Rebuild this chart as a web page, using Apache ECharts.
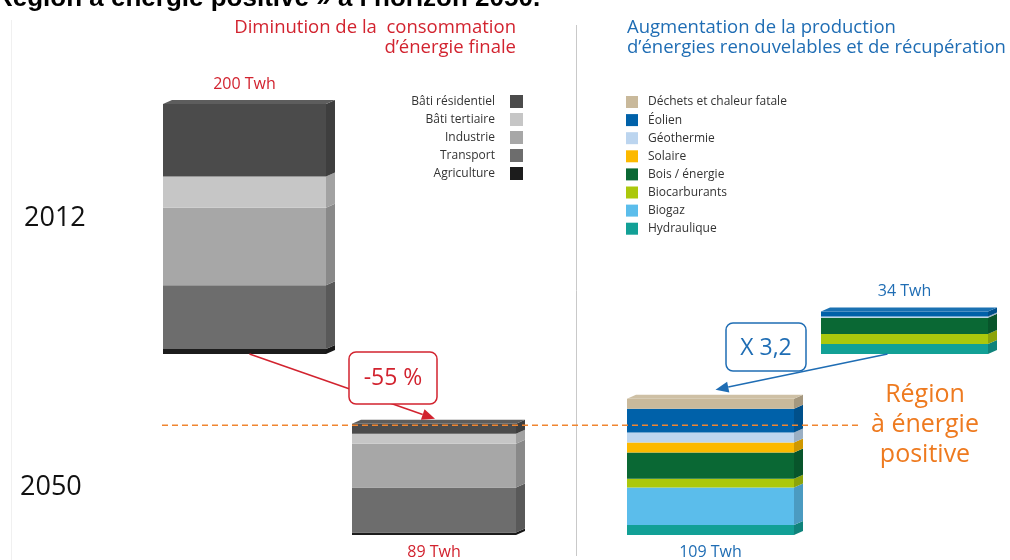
<!DOCTYPE html>
<html><head><meta charset="utf-8">
<script src="https://cdn.jsdelivr.net/npm/echarts@6/dist/echarts.min.js"></script>
<style>html,body{margin:0;padding:0;background:#fff}#c{width:1010px;height:560px}</style>
</head><body><div id="c"></div>
<script>
// ---------- data ----------
const consCategories = ['Bâti résidentiel', 'Bâti tertiaire', 'Industrie', 'Transport', 'Agriculture'];
const consColors = ['#4b4b4b', '#c6c6c6', '#a7a7a7', '#6d6d6d', '#1c1c1c'];
const cons2012 = [58, 25, 62, 51, 4];
const cons2050 = [8, 8, 35, 36, 2];

const prodCategories = ['Déchets et chaleur fatale', 'Éolien', 'Géothermie', 'Solaire', 'Bois / énergie', 'Biocarburants', 'Biogaz', 'Hydraulique'];
const prodColors = ['#c9b99b', '#0061a9', '#bcd5ef', '#fcb900', '#0a6834', '#abc80c', '#5bbdeb', '#12a096'];
const prod2012 = [0, 4, 1, 0, 13, 8, 0, 8];
const prod2050 = [8, 19, 8, 8, 21, 7, 30, 8];

const years = ['2012', '2050'];
const titleText = 'Région à énergie positive » à l’horizon 2050.';
const consHeader = ['Diminution de la  consommation', 'd’énergie finale'];
const prodHeader = ['Augmentation de la production', 'd’énergies renouvelables et de récupération'];
const changeLabel = '-55 %';
const ratioLabel = 'X 3,2';
const positiveLabel = ['Région', 'à énergie', 'positive'];
const unit = ' Twh';

// ---------- style ----------
const RED = '#d2232f', BLUE = '#1f6db4', ORANGE = '#ee7a1f';
const FONT = '"Open Sans", "Noto Sans", sans-serif';
const sum = a => a.reduce((s, v) => s + v, 0);

function shade(hex, f) {
  const n = parseInt(hex.slice(1), 16);
  let r = (n >> 16) & 255, g = (n >> 8) & 255, b = n & 255;
  const t = v => Math.max(0, Math.min(255, Math.round(f < 0 ? v * (1 + f) : v + (255 - v) * f)));
  return 'rgb(' + t(r) + ',' + t(g) + ',' + t(b) + ')';
}

// blocks: values, categories, colours, grid layout, label colour, label side
const blocks = [
  { vals: cons2012, cats: consCategories, colors: consColors, left: 163, width: 163, base: 354, lc: RED, side: 'top' },
  { vals: prod2012, cats: prodCategories, colors: prodColors, left: 821, width: 167, base: 354, lc: BLUE, side: 'top' },
  { vals: cons2050, cats: consCategories, colors: consColors, left: 352, width: 164, base: 535, lc: RED, side: 'bottom' },
  { vals: prod2050, cats: prodCategories, colors: prodColors, left: 627, width: 167, base: 535, lc: BLUE, side: 'bottom' }
];
const AXMAX = 200, PXH = 250;
const DX = 9, DY = -4;

function renderItem(params, api) {
  const s = api.value(1), e = api.value(2), isTop = api.value(3);
  if (e - s <= 0) return null;
  const p0 = api.coord([0, s]), p1 = api.coord([0, e]);
  const w = api.size([1, 0])[0];
  const L = p0[0] - w / 2, R = p0[0] + w / 2, yB = p0[1], yT = p1[1];
  const color = api.visual('color');
  const ch = [
    { type: 'rect', shape: { x: L, y: yT, width: R - L, height: yB - yT }, style: { fill: color } },
    { type: 'polygon', shape: { points: [[R, yT], [R + DX, yT + DY], [R + DX, yB + DY], [R, yB]] }, style: { fill: shade(color, -0.18) } }
  ];
  if (isTop) ch.push({ type: 'polygon', shape: { points: [[L, yT], [L + DX, yT + DY], [R + DX, yT + DY], [R, yT]] }, style: { fill: shade(color, 0.1) } });
  return { type: 'group', children: ch };
}

const grids = [], xAxes = [], yAxes = [], series = [];
blocks.forEach((b, gi) => {
  grids.push({ left: b.left, width: b.width, top: b.base - PXH, height: PXH });
  xAxes.push({ type: 'category', data: ['b'], gridIndex: gi, show: false });
  yAxes.push({ type: 'value', min: 0, max: AXMAX, gridIndex: gi, show: false });
  let acc = 0;
  let topIdx = -1;
  for (let i = 0; i < b.vals.length; i++) if (b.vals[i] > 0) { topIdx = i; break; }
  for (let i = b.vals.length - 1; i >= 0; i--) {
    const s = acc, e = acc + b.vals[i];
    acc = e;
    series.push({
      type: 'custom', name: b.cats[i], xAxisIndex: gi, yAxisIndex: gi,
      itemStyle: { color: b.colors[i] },
      renderItem, silent: true,
      data: [[0, s, e, i === topIdx ? 1 : 0]]
    });
  }
});

const chart = echarts.init(document.getElementById('c'), null, { renderer: 'canvas' });
chart.setOption({
  animation: false,
  backgroundColor: '#fff',
  grid: grids, xAxis: xAxes, yAxis: yAxes, series,
  legend: [
    {
      orient: 'vertical', align: 'right', right: 487, top: 95, padding: 0, itemWidth: 13, itemHeight: 13, itemGap: 5,
      icon: 'rect', selectedMode: false,
      data: consCategories.map((n, i) => ({ name: n, itemStyle: { color: consColors[i], borderWidth: 0 } })),
      textStyle: { fontFamily: FONT, fontSize: 12, color: '#333', padding: [0, 10, 0, 0] }
    },
    {
      orient: 'vertical', align: 'left', left: 626, top: 96, padding: 0, itemWidth: 12, itemHeight: 12, itemGap: 6.1,
      icon: 'rect', selectedMode: false,
      data: prodCategories.map((n, i) => ({ name: n, itemStyle: { color: prodColors[i], borderWidth: 0 } })),
      textStyle: { fontFamily: FONT, fontSize: 12, color: '#333', padding: [0, 0, 0, 5] }
    }
  ]
});

// ---------- annotations placed through the axes ----------
const px = (gi, v) => chart.convertToPixel({ xAxisIndex: gi, yAxisIndex: gi }, [0, v]);
function arrow(from, to, color) {
  const ang = Math.atan2(to[1] - from[1], to[0] - from[0]);
  const len = 13, hw = 5.5;
  const bx = to[0] - len * Math.cos(ang), by = to[1] - len * Math.sin(ang);
  const nx = -Math.sin(ang) * hw, ny = Math.cos(ang) * hw;
  return [
    { type: 'line', shape: { x1: from[0], y1: from[1], x2: bx, y2: by }, style: { stroke: color, lineWidth: 1.5 }, z: 10 },
    { type: 'polygon', shape: { points: [[to[0], to[1]], [bx + nx, by + ny], [bx - nx, by - ny]] }, style: { fill: color }, z: 10 }
  ];
}
const g = [];
// title (cut at top)
g.push({ type: 'text', style: { text: titleText, x: -6, y: -1, font: 'bold 26px "Liberation Sans", Arial, sans-serif', fill: '#000', verticalAlign: 'middle' } });
// faint frame + divider
g.push({ type: 'line', shape: { x1: 11.5, y1: 20, x2: 11.5, y2: 560 }, style: { stroke: '#f0f0f0', lineWidth: 1 } });
g.push({ type: 'line', shape: { x1: 576.5, y1: 25, x2: 576.5, y2: 556 }, style: { stroke: '#c9c9c9', lineWidth: 1 } });
// headers
consHeader.forEach((t, i) => g.push({ type: 'text', style: { text: t, x: 516, y: 28 + i * 20, align: 'right', verticalAlign: 'middle', font: '18.5px ' + FONT, fill: RED } }));
prodHeader.forEach((t, i) => g.push({ type: 'text', style: { text: t, x: 627, y: 28 + i * 20, align: 'left', verticalAlign: 'middle', font: '18.5px ' + FONT, fill: BLUE } }));
// years
g.push({ type: 'text', style: { text: years[0], x: 24, y: 218, verticalAlign: 'middle', font: '27px ' + FONT, fill: '#111' } });
g.push({ type: 'text', style: { text: years[1], x: 20, y: 487, verticalAlign: 'middle', font: '27px ' + FONT, fill: '#111' } });
// totals
blocks.forEach((b, gi) => {
  const tot = sum(b.vals);
  const c = px(gi, b.side === 'top' ? tot : 0);
  g.push({ type: 'text', style: { text: tot + unit, x: c[0], y: b.side === 'top' ? c[1] - 20 : c[1] + 17, align: 'center', verticalAlign: 'middle', font: '16px ' + FONT, fill: b.lc } });
});
// positive-energy threshold: 2050 consumption level
const thr = px(2, sum(cons2050));
g.push({ type: 'line', shape: { x1: 162, y1: thr[1] + 1.5, x2: 860, y2: thr[1] + 1.5 }, style: { stroke: '#f08530', lineWidth: 1.5, lineDash: [6, 4] }, z: 5 });
positiveLabel.forEach((t, i) => g.push({ type: 'text', style: { text: t, x: 925, y: 395 + i * 30, align: 'center', verticalAlign: 'middle', font: '25px ' + FONT, fill: ORANGE } }));
// red callout
const a0 = px(0, 0), a1 = px(2, sum(cons2050));
arrow([a0[0] + 5, a0[1]], [a1[0] + 1, a1[1] - 5], RED).forEach(e => g.push(e));
g.push({ type: 'rect', shape: { x: 349, y: 352, width: 88, height: 52, r: 7 }, style: { fill: '#fff', stroke: RED, lineWidth: 1.5 }, z: 11 });
g.push({ type: 'text', style: { text: changeLabel, x: 393, y: 378, align: 'center', verticalAlign: 'middle', font: '23px ' + FONT, fill: RED }, z: 12 });
// blue callout
const b0 = px(1, 0), b1 = px(3, sum(prod2050));
arrow([b0[0] - 17, b0[1]], [b1[0] + 5, b1[1] - 9], BLUE).forEach(e => g.push(e));
g.push({ type: 'rect', shape: { x: 726, y: 323, width: 80, height: 48, r: 7 }, style: { fill: '#fff', stroke: BLUE, lineWidth: 1.5 }, z: 11 });
g.push({ type: 'text', style: { text: ratioLabel, x: 766, y: 348, align: 'center', verticalAlign: 'middle', font: '23px ' + FONT, fill: BLUE }, z: 12 });

chart.setOption({ graphic: { elements: g } });
</script>
</body></html>
